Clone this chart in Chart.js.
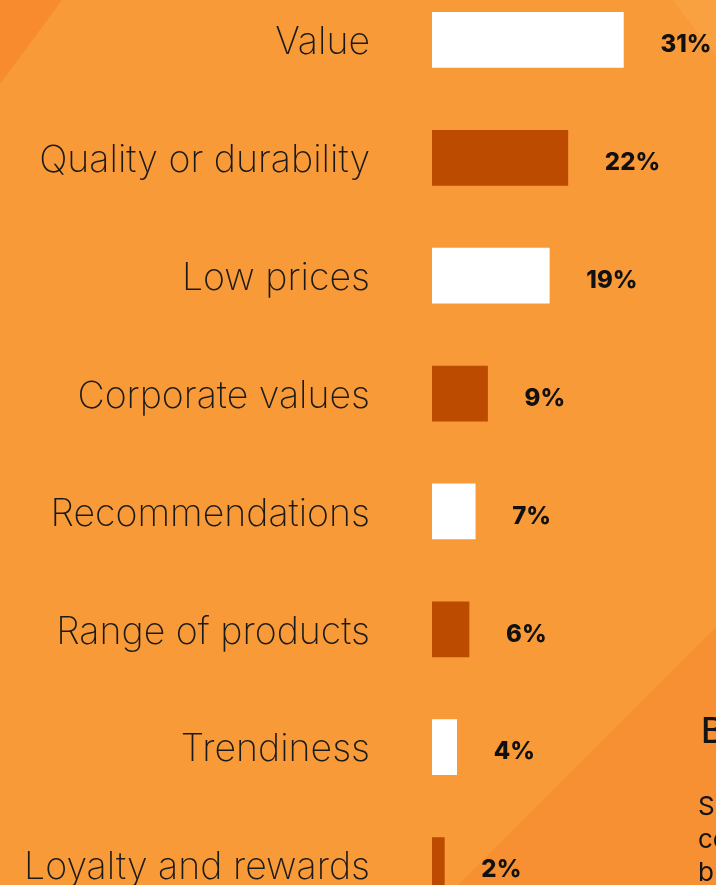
<!DOCTYPE html>
<html lang="en">
<head>
    <meta charset="UTF-8">
    <title>What matters most</title>
    <script src="https://cdn.jsdelivr.net/npm/chart.js"></script>
    <style>
        html, body {
            margin: 0;
            width: 716px;
            height: 885px;
            overflow: hidden;
        }

        body {
            position: relative;
            background: #f89a37;
            font-family: 'Inter', sans-serif;
        }

        .shade {
            position: absolute;
            inset: 0;
        }

        .shade.top-left {
            background: #f78b2e;
            clip-path: polygon(0 0, 62px 0, 0 84px);
        }

        .shade.top-right {
            background: #f9a040;
            clip-path: polygon(672px 0, 716px 0, 716px 56px);
        }

        .shade.bottom-right {
            background: #f69032;
            clip-path: polygon(458px 885px, 716px 627px, 716px 885px);
        }

        #reasonsChart {
            position: absolute;
            left: 0;
            top: -19px;
        }

        .side-text {
            position: absolute;
            left: 698px;
            top: 708px;
            color: #141414;
            white-space: nowrap;
        }

        .side-text h3 {
            margin: 0 0 0 3px;
            font-size: 35px;
            font-weight: 500;
            line-height: 44px;
        }

        .side-text p {
            margin: 37px 0 0 0;
            font-size: 26px;
            font-weight: 400;
            line-height: 33px;
        }
    </style>
</head>
<body>
    <div class="shade top-left"></div>
    <div class="shade top-right"></div>
    <div class="shade bottom-right"></div>

    <canvas id="reasonsChart" width="716" height="943"></canvas>

    <div class="side-text">
        <h3>B</h3>
        <p>S<br>co<br>b</p>
    </div>

    <script>
        // reasons and share of respondents (%)
        const reasons = [
            'Value',
            'Quality or durability',
            'Low prices',
            'Corporate values',
            'Recommendations',
            'Range of products',
            'Trendiness',
            'Loyalty and rewards'
        ];
        const shares = [31, 22, 19, 9, 7, 6, 4, 2];
        const barColors = ['#ffffff', '#bc4b00', '#ffffff', '#bc4b00', '#ffffff', '#bc4b00', '#ffffff', '#bc4b00'];

        // percent labels to the right of each bar
        const valueLabels = {
            id: 'valueLabels',
            afterDatasetsDraw(chart) {
                const ctx = chart.ctx;
                const meta = chart.getDatasetMeta(0);
                ctx.save();
                ctx.font = '800 24px Inter';
                ctx.fillStyle = '#111111';
                ctx.textAlign = 'left';
                ctx.textBaseline = 'middle';
                meta.data.forEach((bar, i) => {
                    ctx.fillText(shares[i] + '%', bar.x + 37, bar.y + 5);
                });
                ctx.restore();
            }
        };

        new Chart(document.getElementById('reasonsChart'), {
            type: 'bar',
            data: {
                labels: reasons,
                datasets: [{
                    data: shares,
                    backgroundColor: barColors,
                    borderWidth: 0,
                    barThickness: 55
                }]
            },
            options: {
                indexAxis: 'y',
                responsive: false,
                animation: false,
                layout: { padding: 0 },
                plugins: {
                    legend: { display: false },
                    tooltip: { enabled: false }
                },
                scales: {
                    x: {
                        display: false,
                        min: 0,
                        max: 46
                    },
                    y: {
                        afterFit(scale) {
                            // fixed gutter for the labels, no extra vertical padding
                            scale.width = 432;
                            scale.paddingTop = 0;
                            scale.paddingBottom = 0;
                        },
                        grid: { display: false, drawTicks: false },
                        border: { display: false },
                        ticks: {
                            color: '#1a1a1a',
                            padding: 62,
                            labelOffset: 3,
                            autoSkip: false,
                            font: { family: 'Inter', size: 37.5, weight: 200 }
                        }
                    }
                }
            },
            plugins: [valueLabels]
        });
    </script>
</body>
</html>
